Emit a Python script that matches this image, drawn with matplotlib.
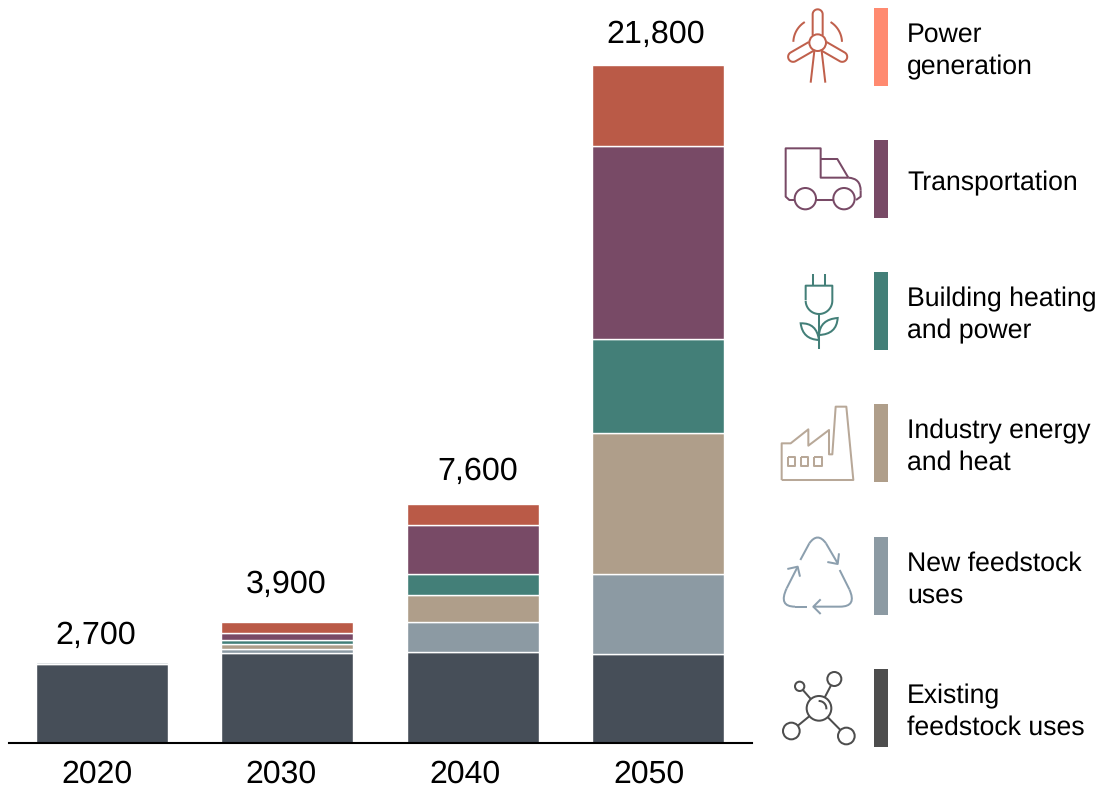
import numpy as np
import matplotlib
matplotlib.use("Agg")
import matplotlib.pyplot as plt
from matplotlib.patches import Circle, PathPatch, Rectangle
from matplotlib.path import Path

plt.rcParams["font.family"] = ["Liberation Sans", "DejaVu Sans"]
plt.rcParams["text.hinting"] = "no_hinting"

W, H = 1099, 788
ICON_LW = 1.45

years = ["2020", "2030", "2040", "2050"]
totals = ["2,700", "3,900", "7,600", "21,800"]

# values, bottom to top
existing = [2540, 2880, 2930, 2870]
feedstock = [70, 150, 970, 2580]
industry = [0, 140, 870, 4510]
building = [0, 130, 680, 3030]
transport = [0, 250, 1550, 6220]
power = [0, 330, 680, 2610]

series = [existing, feedstock, industry, building, transport, power]
bar_colors = ["#464E58", "#8C9AA3", "#AF9E8A", "#437F78", "#784A66", "#BA5A47"]

legend_labels = [
    "Power\ngeneration",
    "Transportation",
    "Building heating\nand power",
    "Industry energy\nand heat",
    "New feedstock\nuses",
    "Existing\nfeedstock uses",
]
legend_colors = ["#FF8A70", "#784A66", "#437F78", "#AF9E8A", "#8C9AA3", "#4D4D4D"]
legend_top = [8, 140, 272, 404, 537, 669]

fig = plt.figure(figsize=(W / 100, H / 100), dpi=100, facecolor="white")

# bars
ax = fig.add_axes([9 / W, 1 - 743 / H, (752 - 9) / W, 743 / H])
x = np.arange(len(years))
bottom = np.zeros(len(years))
for vals, c in zip(series, bar_colors):
    ax.bar(x, vals, width=0.712, bottom=bottom, color=c, edgecolor="white", linewidth=1.0)
    bottom += np.array(vals)
ax.set_xlim(-0.502, 3.506)
ax.set_ylim(0, 23895)
ax.set_yticks([])
ax.set_xticks([-0.027, 0.965, 1.958, 2.95], years, fontsize=23)
ax.tick_params(axis="x", length=0, pad=12)
for s in ["top", "left", "right"]:
    ax.spines[s].set_visible(False)
ax.spines["bottom"].set_linewidth(1.5)
ax.spines["bottom"].set_color("black")
ax.set_zorder(1)
ax.patch.set_alpha(0)

# overlay in pixel coordinates for labels, legend and icons
ov = fig.add_axes([0, 0, 1, 1])
ov.set_xlim(0, W)
ov.set_ylim(H, 0)
ov.axis("off")
ov.patch.set_alpha(0)

for t, px, py in zip(totals, [96, 286, 478, 656], [636, 585, 472, 35]):
    ov.text(px, py, t, fontsize=23.2, ha="center", va="center", color="black")

for lab, c, top in zip(legend_labels, legend_colors, legend_top):
    ov.add_patch(Rectangle((874, top), 14, 78, facecolor=c, edgecolor="none"))
    lines = lab.split("\n")
    ys = [top + 43] if len(lines) == 1 else [top + 27, top + 59]
    for line_text, yy in zip(lines, ys):
        ov.text(907, yy, line_text, fontsize=19.2, ha="left", va="center", color="black")


# icon helpers: coordinates are 3x crop units around the icon
def to_px(pts, oy):
    pts = np.asarray(pts, dtype=float)
    return np.column_stack([770 + pts[:, 0] / 3, oy + pts[:, 1] / 3])


def line(pts, c, oy=0, close=False):
    p = to_px(pts, oy)
    if close:
        p = np.vstack([p, p[0]])
    ov.plot(p[:, 0], p[:, 1], color=c, lw=ICON_LW, solid_capstyle="butt", solid_joinstyle="round")


def circ(cx, cy, r, c, oy=0):
    p = to_px([(cx, cy)], oy)[0]
    ov.add_patch(Circle(p, r / 3, facecolor="white", edgecolor=c, lw=ICON_LW, zorder=3))


def curve(pts, c, oy=0):
    # first point, then pairs of control and end points
    p = to_px(pts, oy)
    codes = [Path.MOVETO] + [Path.CURVE3] * (len(p) - 1)
    ov.add_patch(PathPatch(Path(p, codes), facecolor="none", edgecolor=c, lw=ICON_LW, capstyle="butt"))


def arc(cx, cy, r, a0, a1, n=40):
    t = np.radians(np.linspace(a0, a1, n))
    return np.column_stack([cx + r * np.cos(t), cy + r * np.sin(t)])


# wind turbine
c = "#C0604C"
hx, hy, blade_len, hw = 143, 128, 100, 15
for ang in [-90, 30, 150]:
    u = np.array([np.cos(np.radians(ang)), np.sin(np.radians(ang))])
    n = np.array([-u[1], u[0]])
    tip = np.array([hx, hy]) + u * (blade_len - hw)
    cap = arc(tip[0], tip[1], hw, ang - 90, ang + 90)
    a = np.array([hx, hy]) + u * 22 - n * hw
    b = np.array([hx, hy]) + u * 22 + n * hw
    line(np.vstack([a, cap, b]), c)
circ(hx, hy, 25, c)
line(arc(hx, hy, 73, -122, -178), c)
line(arc(hx, hy, 73, -58, -2), c)
line([(133, 153), (122, 248)], c)
line([(155, 153), (166, 248)], c)

# truck
c = "#784A66"
line([(75, 600), (58, 600), (47, 590), (47, 445), (152, 445), (152, 533), (235, 533)], c)
line([(152, 477), (202, 477), (235, 533)], c)
curve([(235, 533), (272, 535), (272, 572)], c)
line([(272, 572), (272, 590), (258, 600)], c)
line([(138, 600), (190, 600)], c)
circ(106, 596, 32, c)
circ(222, 596, 32, c)

# plug with leaves
c = "#437F78"
line([(129, 822), (129, 857)], c)
line([(165, 822), (165, 857)], c)
line(np.vstack([[(107, 900), (107, 857), (187, 857), (187, 900)], arc(147, 902, 40, 0, 180)]), c)
line([(147, 942), (147, 1047)], c)
curve([(147, 1020), (140, 968), (92, 970), (98, 1018), (147, 1020)], c)
curve([(147, 1005), (150, 958), (203, 954), (200, 1003), (147, 1005)], c)

# factory
c = "#B8A898"
line([(35, 270), (35, 160), (62, 160), (115, 118), (115, 167), (177, 120), (177, 193),
      (187, 193), (197, 50), (229, 50), (250, 270)], c, oy=390, close=True)
for x0 in [53, 92, 132]:
    line([(x0, 201), (x0 + 23, 201), (x0 + 23, 228), (x0, 228)], c, oy=390, close=True)

# recycling arrows
c = "#8C9FAE"
line([(91, 510), (118, 460)], c, oy=390)
curve([(118, 460), (143, 425), (168, 460)], c, oy=390)
line([(168, 460), (203, 520)], c, oy=390)
line([(172, 516), (203, 522), (207, 490)], c, oy=390)
line([(209, 540), (238, 598)], c, oy=390)
curve([(238, 598), (262, 650), (210, 650)], c, oy=390)
line([(210, 650), (130, 650), (152, 628)], c, oy=390)
line([(130, 650), (152, 672)], c, oy=390)
line([(110, 650), (75, 650)], c, oy=390)
curve([(75, 650), (24, 650), (50, 595)], c, oy=390)
line([(50, 595), (83, 530)], c, oy=390)
line([(52, 537), (83, 530), (90, 560)], c, oy=390)

# molecule
c = "#4D4D4D"
line([(147, 955), (193, 867)], c, oy=390)
line([(147, 955), (89, 889)], c, oy=390)
line([(147, 955), (64, 1023)], c, oy=390)
line([(147, 955), (229, 1038)], c, oy=390)
for cx, cy, r in [(147, 955, 37), (193, 867, 21), (89, 889, 14), (64, 1023, 25), (229, 1038, 25)]:
    circ(cx, cy, r, c, oy=390)
pp = to_px(arc(147, 955, 22, -85, 0), 390)
ov.plot(pp[:, 0], pp[:, 1], color=c, lw=ICON_LW, zorder=4)

fig.savefig("out.png", dpi=100)
